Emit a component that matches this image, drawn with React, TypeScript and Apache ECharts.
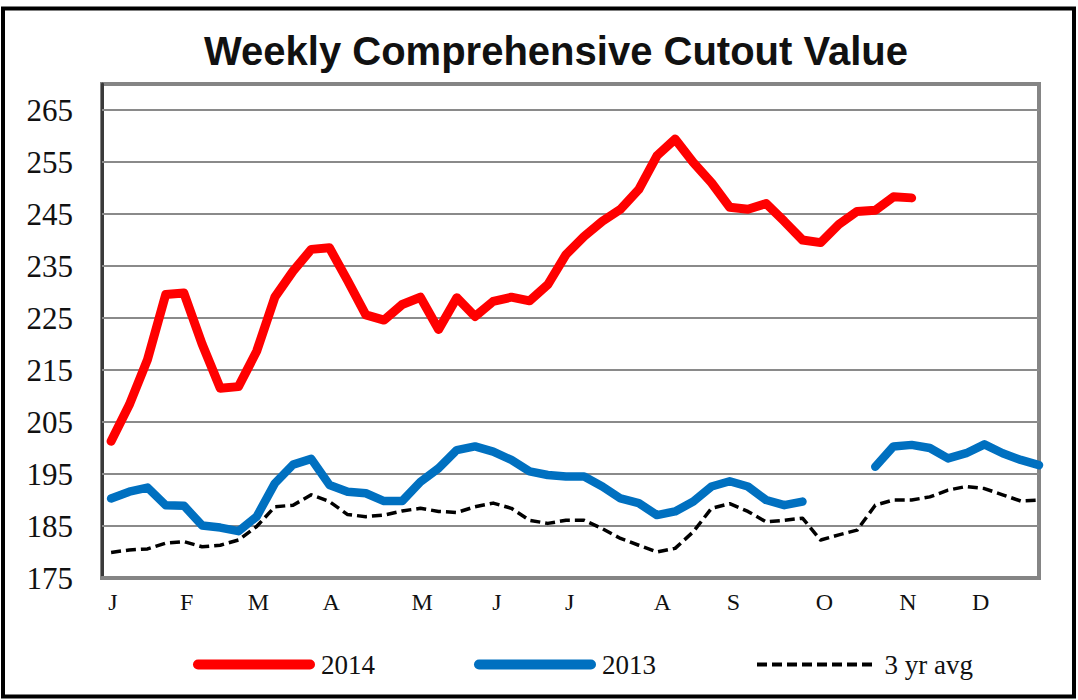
import React, { useEffect, useRef } from "react";
import * as echarts from "echarts";

const weeks: number[] = Array.from({ length: 52 }, (_, i) => i);

const series2014: (number | null)[] = [
  201.3, 208.3, 217.0, 229.5, 229.8, 220.0, 211.5, 211.8, 218.6, 229.0,
  234.0, 238.2, 238.5, 232.2, 225.6, 224.6, 227.6, 229.0, 222.8, 228.9,
  225.3, 228.2, 229.0, 228.3, 231.4, 237.2, 240.7, 243.6, 245.9, 249.7,
  256.2, 259.4, 254.9, 251.0, 246.3, 245.9, 247.0, 243.6, 240.0, 239.5,
  243.0, 245.5, 245.7, 248.3, 248.1, null, null, null, null, null,
  null, null,
];

const series2013: (number | null)[] = [
  190.3, 191.6, 192.4, 189.0, 188.9, 185.1, 184.7, 184.0, 186.8, 193.2,
  196.8, 197.9, 192.9, 191.6, 191.3, 189.8, 189.8, 193.5, 196.1, 199.6,
  200.3, 199.3, 197.7, 195.5, 194.8, 194.5, 194.5, 192.6, 190.3, 189.4,
  187.1, 187.8, 189.7, 192.6, 193.6, 192.6, 190.0, 189.0, 189.7, null,
  null, null, 196.4, 200.3, 200.6, 200.0, 198.0, 199.0, 200.7, 199.0,
  197.7, 196.7,
];

const series3yr: (number | null)[] = [
  179.9, 180.4, 180.6, 181.7, 182.0, 181.0, 181.3, 182.3, 184.9, 188.7,
  189.0, 191.0, 189.7, 187.2, 186.8, 187.1, 187.9, 188.4, 187.8, 187.6,
  188.7, 189.4, 188.4, 186.1, 185.5, 186.1, 186.1, 184.5, 182.6, 181.3,
  180.0, 180.7, 183.9, 188.4, 189.3, 187.8, 185.8, 186.1, 186.5, 182.3,
  183.3, 184.2, 189.0, 190.0, 190.0, 190.6, 191.9, 192.6, 192.2, 191.0,
  189.8, 190.0,
];

const monthLabels: string[] = ["J", "F", "M", "A", "M", "J", "J", "A", "S", "O", "N", "D"];
const monthTickWeeks: number[] = [0.1, 4.15, 8.1, 12.1, 17.1, 21.2, 25.2, 30.3, 34.2, 39.2, 43.8, 47.8];

const yLabelValues: number[] = [175, 185, 195, 205, 215, 225, 235, 245, 255, 265];
const gridValues: number[] = [185, 195, 205, 215, 225, 235, 245, 255, 265];

const seriesNames = ["2014", "2013", "3 yr avg"];

const toPairs = (vals: (number | null)[]) =>
  weeks.map((w, i) => [w, vals[i] === null ? "-" : vals[i]]);

const capsuleIcon = "path://M5,0 H117 A5,5 0 0 1 117,10 H5 A5,5 0 0 1 5,0 Z";
const dashIcon =
  "path://" +
  Array.from({ length: 8 }, (_, i) => `M${i * 15},0 h10 v4 h-10 Z`).join(" ");

export default function App() {
  const ref = useRef<HTMLDivElement>(null);

  useEffect(() => {
    document.body.style.margin = "0";
    const chart = echarts.init(ref.current!, null, { renderer: "svg" });
    const serif = "'Liberation Serif', 'Times New Roman', serif";
    const legendCommon = {
      top: 646,
      itemGap: 0,
      textStyle: { fontFamily: serif, fontSize: 27, color: "#111" },
      selectedMode: false,
    };
    chart.setOption({
      animation: false,
      backgroundColor: "#ffffff",
      title: {
        text: "Weekly Comprehensive Cutout Value",
        left: 551,
        top: 26,
        textAlign: "center",
        textStyle: {
          fontFamily: "'Liberation Sans', Arial, sans-serif",
          fontWeight: "bold",
          fontSize: 40,
          color: "#111",
        },
      },
      legend: [
        {
          ...legendCommon,
          left: 188,
          itemWidth: 124,
          itemHeight: 10,
          data: [{ name: seriesNames[0], icon: capsuleIcon, itemStyle: { color: "#ff0000" } }],
        },
        {
          ...legendCommon,
          left: 469,
          itemWidth: 124,
          itemHeight: 10,
          data: [{ name: seriesNames[1], icon: capsuleIcon, itemStyle: { color: "#0070c0" } }],
        },
        {
          ...legendCommon,
          left: 752,
          itemWidth: 118,
          itemHeight: 4,
          itemStyle: { color: "#000" },
          data: [{ name: seriesNames[2], icon: dashIcon, itemStyle: { color: "#000000" } }],
          textStyle: { ...legendCommon.textStyle, padding: [0, 0, 0, 6] },
        },
      ],
      grid: {
        left: 102,
        top: 84,
        width: 937,
        height: 494,
        show: true,
        borderColor: "#858585",
        borderWidth: 4,
        backgroundColor: "#ffffff",
      },
      xAxis: {
        type: "value",
        min: -0.5,
        max: 51,
        splitLine: { show: false },
        axisLine: { show: true, onZero: false, lineStyle: { color: "#858585", width: 4 } },
        axisTick: { show: false },
        axisLabel: {
          customValues: monthTickWeeks,
          formatter: (v: number) => {
            const idx = monthTickWeeks.indexOf(v);
            return idx >= 0 ? monthLabels[idx] : "";
          },
          margin: 12,
          fontFamily: serif,
          fontSize: 24,
          color: "#111",
        },
      },
      yAxis: {
        type: "value",
        min: 175,
        max: 270,
        interval: 5,
        splitLine: { show: false },
        axisLine: { show: true, onZero: false, lineStyle: { color: "#3a3a3a", width: 3 } },
        axisTick: { show: false },
        axisLabel: {
          formatter: (v: number) => (yLabelValues.indexOf(v) >= 0 ? String(v) : ""),
          margin: 29,
          fontFamily: serif,
          fontSize: 31,
          color: "#111",
        },
      },
      series: [
        {
          name: seriesNames[0],
          type: "line",
          data: toPairs(series2014),
          symbol: "none",
          z: 4,
          lineStyle: { color: "#ff0000", width: 9, cap: "round", join: "round" },
          itemStyle: { color: "#ff0000" },
          markLine: {
            silent: true,
            symbol: ["none", "none"],
            z: 1,
            label: { show: false },
            lineStyle: { color: "#8a8a8a", width: 2, type: "solid" },
            data: gridValues.map((v) => ({ yAxis: v })),
          },
        },
        {
          name: seriesNames[1],
          type: "line",
          data: toPairs(series2013),
          symbol: "none",
          z: 3,
          lineStyle: { color: "#0070c0", width: 8.5, cap: "round", join: "round" },
          itemStyle: { color: "#0070c0" },
        },
        {
          name: seriesNames[2],
          type: "line",
          data: toPairs(series3yr),
          symbol: "none",
          z: 3,
          lineStyle: { color: "#000000", width: 3.5, type: [10, 5], join: "round" },
          itemStyle: { color: "#000000" },
        },
      ],
      graphic: [
        {
          type: "rect",
          shape: { x: 3, y: 8.5, width: 1071, height: 688 },
          style: { fill: "none", stroke: "#000", lineWidth: 4 },
          silent: true,
          z: 100,
        },
      ],
    });
    return () => chart.dispose();
  }, []);

  return (
    <div
      ref={ref}
      style={{ position: "fixed", left: 0, top: 0, width: 1078, height: 700 }}
    />
  );
}
